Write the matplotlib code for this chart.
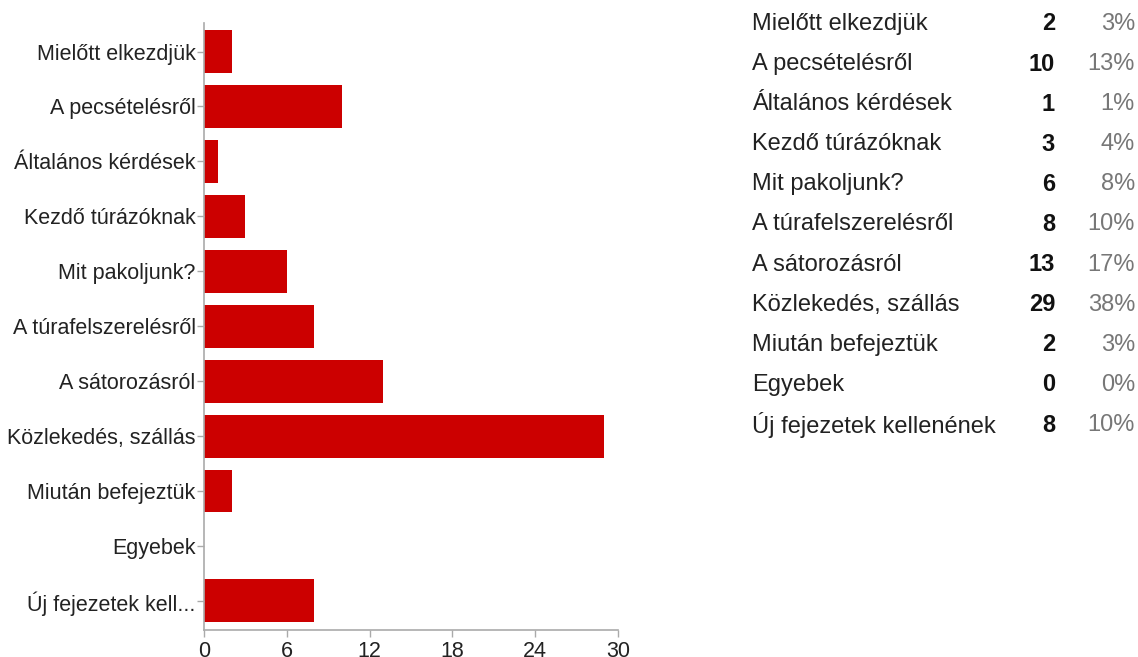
import numpy as np
import matplotlib.pyplot as plt

plt.rcParams['font.family'] = ['Liberation Sans', 'DejaVu Sans']

# data
axis_labels = ["Mielőtt elkezdjük", "A pecsételésről", "Általános kérdések",
               "Kezdő túrázóknak", "Mit pakoljunk?", "A túrafelszerelésről",
               "A sátorozásról", "Közlekedés, szállás", "Miután befejeztük",
               "Egyebek", "Új fejezetek kell..."]
table_labels = ["Mielőtt elkezdjük", "A pecsételésről", "Általános kérdések",
                "Kezdő túrázóknak", "Mit pakoljunk?", "A túrafelszerelésről",
                "A sátorozásról", "Közlekedés, szállás", "Miután befejeztük",
                "Egyebek", "Új fejezetek kellenének"]
counts = [2, 10, 1, 3, 6, 8, 13, 29, 2, 0, 8]
percents = [3, 13, 1, 4, 8, 10, 17, 38, 3, 0, 10]
x_ticks = [0, 6, 12, 18, 24, 30]

W, H = 1138, 657
fig = plt.figure(figsize=(W / 100, H / 100), dpi=100)
ax = fig.add_axes([204 / W, 1 - 630 / H, 414 / W, 607 / H])

y = np.arange(len(counts))
ax.barh(y, counts, height=0.78, color='#cc0000', edgecolor='none')

ax.set_xlim(0, 30)
ax.set_ylim(10.53, -0.52)
ax.set_xticks(x_ticks)
ax.set_yticks(y)
ax.set_yticklabels(axis_labels)

grey = '#aaaaaa'
for side in ['top', 'right']:
    ax.spines[side].set_visible(False)
for side in ['left', 'bottom']:
    ax.spines[side].set_color(grey)
    ax.spines[side].set_linewidth(1.2)
ax.tick_params(axis='both', colors=grey, length=5, width=1, labelcolor='#222222',
               labelsize=15.5)
ax.tick_params(axis='y', pad=1)
ax.tick_params(axis='x', pad=3)

# summary table on the right
row0, step = 24, 40.1
for i, (lab, n, p) in enumerate(zip(table_labels, counts, percents)):
    yy = 1 - (row0 + i * step) / H
    fig.text(752 / W, yy, lab, fontsize=17, color='#222222', va='center', ha='left')
    fig.text(1055 / W, yy, str(n), fontsize=17, color='#111111', va='center',
             ha='right', fontweight='bold')
    fig.text(1135 / W, yy, f"{p}%", fontsize=17, color='#777777', va='center',
             ha='right')

fig.savefig('out.png', dpi=100)
